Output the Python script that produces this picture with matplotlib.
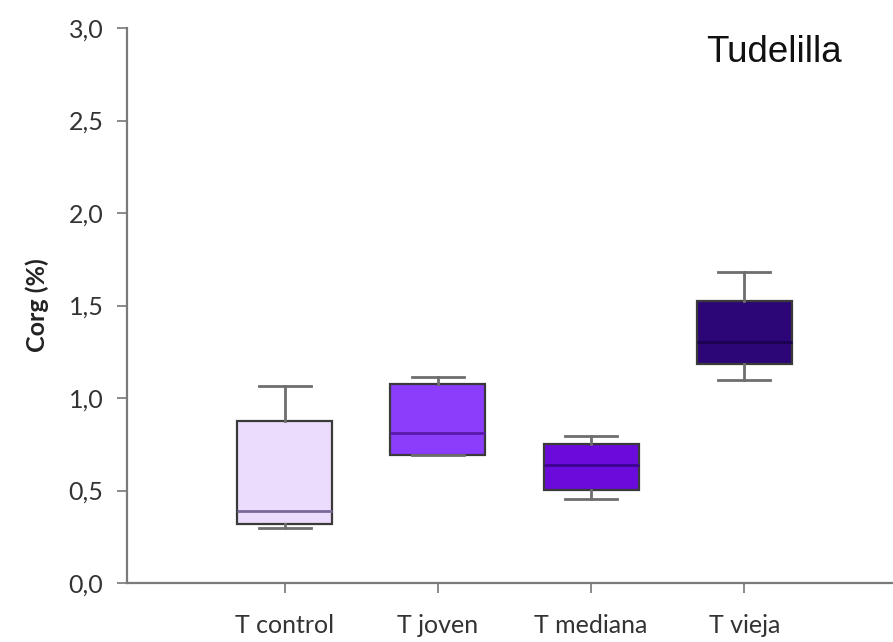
import matplotlib
matplotlib.use("Agg")
import matplotlib.pyplot as plt
from matplotlib.ticker import FuncFormatter

# Box-plot summary statistics per treatment (Corg %)
categories = ["T control", "T joven", "T mediana", "T vieja"]
whisker_low = [0.30, 0.69, 0.455, 1.10]
q1 = [0.32, 0.69, 0.505, 1.185]
median = [0.39, 0.81, 0.638, 1.305]
q3 = [0.873, 1.075, 0.75, 1.526]
whisker_high = [1.065, 1.115, 0.795, 1.683]
fill_colors = ["#ebdcfd", "#8c3dfc", "#6a0bdb", "#2c0676"]
median_colors = ["#7a6a9a", "#5a1aa8", "#3e0490", "#1c0250"]

y_ticks = [0.0, 0.5, 1.0, 1.5, 2.0, 2.5, 3.0]

fig = plt.figure(figsize=(8.93, 6.42), dpi=100)
W, H = 893, 642
left, right, bottom, top = 127, 905, 583, 28
ax = fig.add_axes([left / W, 1 - bottom / H, (right - left) / W, (bottom - top) / H])

stats = []
for i, name in enumerate(categories):
    stats.append(dict(label=name, whislo=whisker_low[i], q1=q1[i], med=median[i],
                      q3=q3[i], whishi=whisker_high[i], fliers=[]))

positions = [1, 2, 3, 4]
bp = ax.bxp(stats, positions=positions, widths=0.62, patch_artist=True,
            showfliers=False,
            boxprops=dict(linewidth=1.6, edgecolor="#3a3a3a"),
            whiskerprops=dict(color="#6e6e6e", linewidth=2.0),
            capprops=dict(color="#6e6e6e", linewidth=2.0),
            medianprops=dict(linewidth=2.0))
for patch, fc in zip(bp["boxes"], fill_colors):
    patch.set_facecolor(fc)
for med, mc in zip(bp["medians"], median_colors):
    med.set_color(mc)
for cap in bp["caps"]:
    x0, x1 = cap.get_xdata()
    c = (x0 + x1) / 2
    cap.set_xdata([c - 0.17, c + 0.17])

ax.set_xlim(-0.03, 5.05)
ax.set_ylim(0, 3.0)
ax.set_yticks(y_ticks)
ax.yaxis.set_major_formatter(FuncFormatter(lambda v, p: f"{v:.1f}".replace(".", ",")))
ax.set_xticks(positions)
ax.set_xticklabels(categories)

for s in ["top", "right"]:
    ax.spines[s].set_visible(False)
for s in ["left", "bottom"]:
    ax.spines[s].set_color("#7a7a7a")
    ax.spines[s].set_linewidth(1.6)

ax.tick_params(axis="both", direction="out", length=7, width=1.4, color="#8a8a8a",
               labelsize=18, labelcolor="#333333")
ax.tick_params(axis="y", pad=10)
ax.tick_params(axis="x", pad=15)
for lab in ax.get_xticklabels() + ax.get_yticklabels():
    lab.set_fontfamily("Lato")

ax.set_ylabel("Corg (%)", fontsize=18, fontweight="bold", fontfamily="Lato",
              color="#222222", labelpad=14)

ax.text(0.943, 0.918, "Tudelilla", transform=fig.transFigure, ha="right", va="center",
        fontsize=26.5, fontfamily="Liberation Sans", color="#111111")

fig.savefig("out.png", dpi=100)
